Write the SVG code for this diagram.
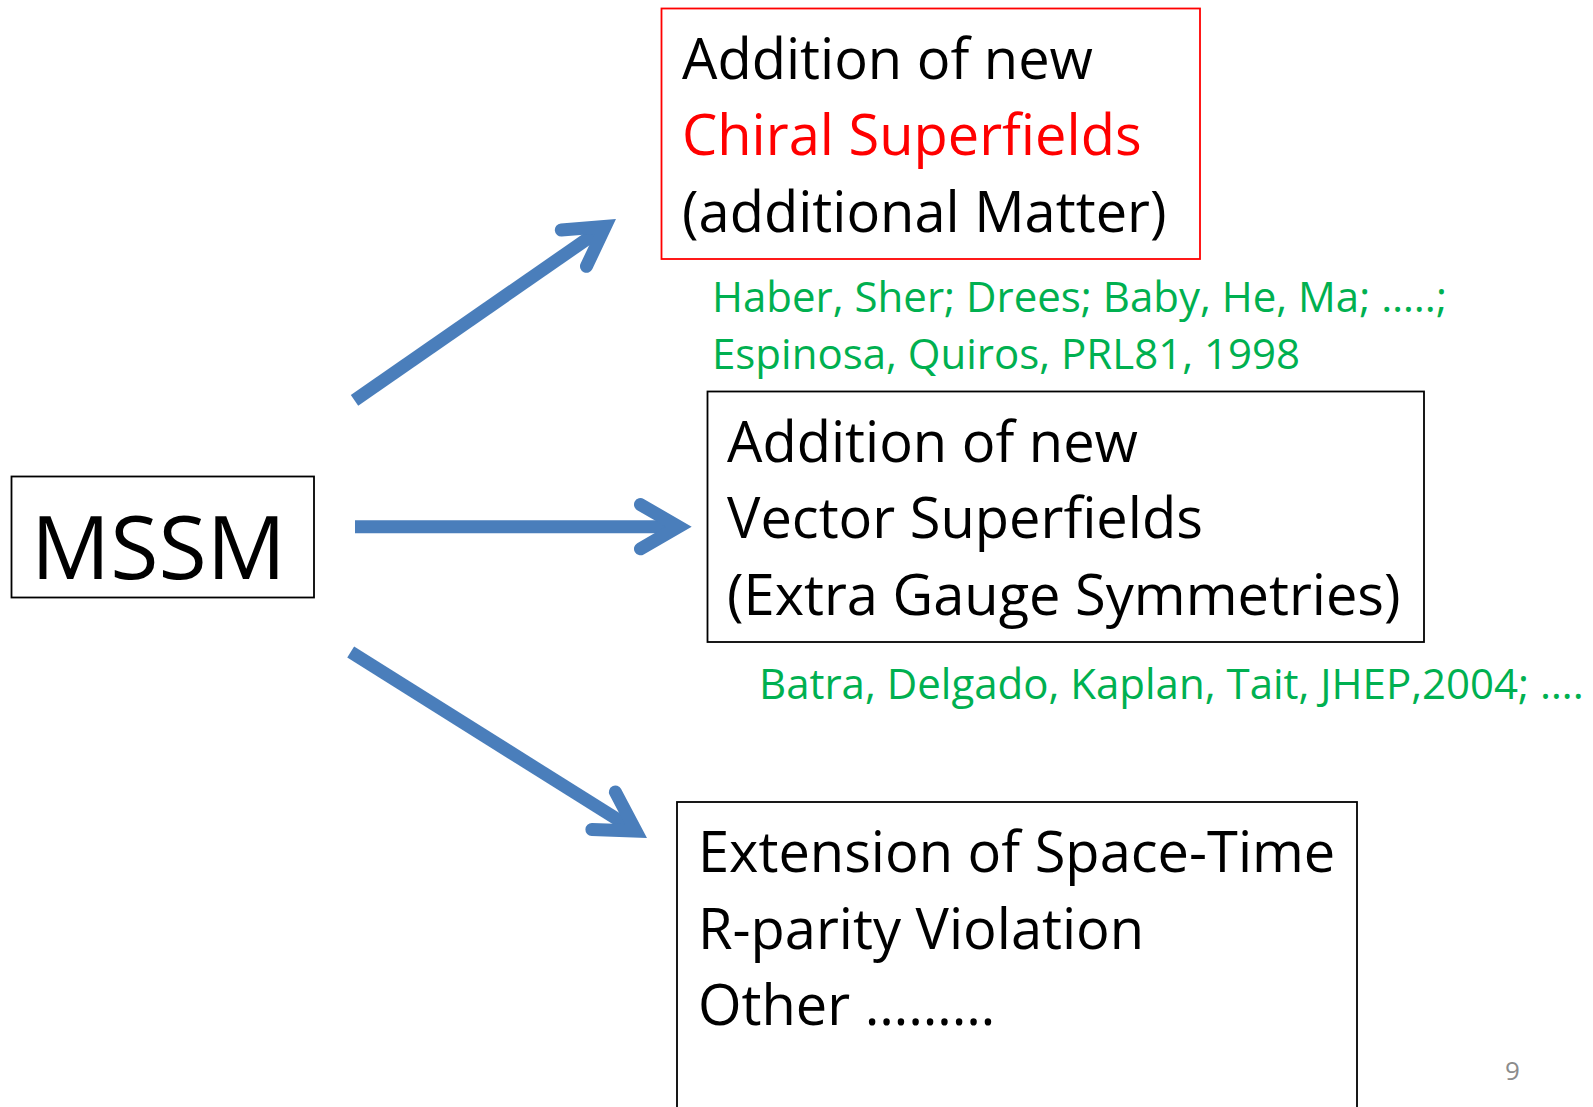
<svg xmlns="http://www.w3.org/2000/svg" width="1593" height="1107" viewBox="0 0 1593 1107">
<style>
.t{font-family:"Open Sans","Noto Sans","Liberation Sans",sans-serif;fill:#000}
.big{font-size:56px}
.ref{font-size:42px;fill:#00B050}
.red{fill:#FF0000}
.box{fill:#fff;stroke:#000;stroke-width:1.8}
.arr{fill:none;stroke:#4A7EBB;stroke-width:13;stroke-linecap:butt}
</style>
<defs>
<marker id="ah" markerUnits="strokeWidth" markerWidth="6" markerHeight="6" viewBox="-5 -3 6 6" refX="0" refY="0" orient="auto" overflow="visible">
<path d="M-2.94,-1.7 L0,0 L-2.94,1.7" fill="none" stroke="#4A7EBB" stroke-width="1" stroke-linecap="round" stroke-linejoin="miter"/>
</marker>
</defs>
<g id="connectors">
<line class="arr" x1="354.5" y1="400.3" x2="605.3" y2="226.4" marker-end="url(#ah)"/>
<line class="arr" x1="355" y1="526.7" x2="678.7" y2="526.7" marker-end="url(#ah)"/>
<line class="arr" x1="350.7" y1="652" x2="636" y2="831.1" marker-end="url(#ah)"/>
</g>
<g id="mssm">
<rect class="box" x="11.5" y="476.5" width="302.5" height="121"/>
<text class="t" x="31" y="579" font-size="88">MSSM</text>
</g>
<g id="chiral">
<rect x="661.5" y="8.5" width="538.5" height="250.5" fill="#fff" stroke="#FF0000" stroke-width="1.8"/>
<text class="t big" x="682" y="79">Addition of new</text>
<text class="t big red" x="682" y="155">Chiral Superfields</text>
<text class="t big" x="682" y="232">(additional Matter)</text>
</g>
<g id="ref-chiral">
<text class="t ref" x="712" y="312">Haber, Sher; Drees; Baby, He, Ma; …..;</text>
<text class="t ref" x="712" y="369">Espinosa, Quiros, PRL81, 1998</text>
</g>
<g id="vector">
<rect class="box" x="707.5" y="391.5" width="716.5" height="250.5"/>
<text class="t big" x="727" y="462">Addition of new</text>
<text class="t big" x="727" y="538">Vector Superfields</text>
<text class="t big" x="727" y="615">(Extra Gauge Symmetries)</text>
</g>
<g id="ref-vector">
<text class="t ref" x="759" y="699">Batra, Delgado, Kaplan, Tait, JHEP,2004; ….</text>
</g>
<g id="other">
<rect class="box" x="677" y="802" width="680" height="330"/>
<text class="t big" x="698" y="872">Extension of Space-Time</text>
<text class="t big" x="698" y="949">R-parity Violation</text>
<text class="t big" x="698" y="1025">Other ………</text>
</g>
<text class="t" x="1505" y="1080" font-size="26" style="fill:#8C8C8C">9</text>
</svg>
